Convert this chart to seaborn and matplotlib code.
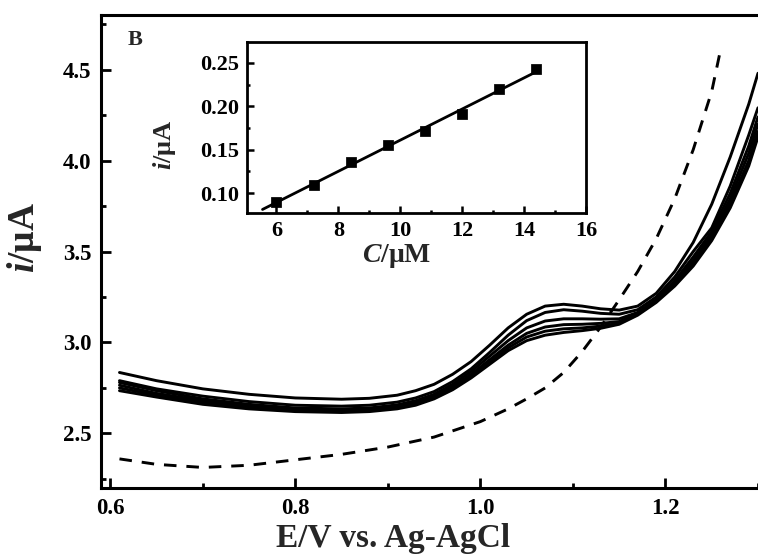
import numpy as np
import pandas as pd
import matplotlib
matplotlib.use("Agg")
import matplotlib.pyplot as plt
from matplotlib.ticker import MultipleLocator
import seaborn as sns

# ---------------- data ----------------
E = [0.61, 0.65, 0.70, 0.75, 0.80, 0.85, 0.88, 0.91, 0.93, 0.95, 0.97, 0.99, 1.01, 1.03,
     1.05, 1.07, 1.09, 1.11, 1.13, 1.15, 1.17, 1.19, 1.21, 1.23, 1.25, 1.27, 1.29, 1.30]
c1 = [2.835, 2.79, 2.745, 2.715, 2.695, 2.688, 2.693, 2.71, 2.735, 2.77, 2.825, 2.895, 2.985, 3.08,
      3.155, 3.20, 3.21, 3.20, 3.185, 3.178, 3.20, 3.27, 3.39, 3.55, 3.76, 4.02, 4.31, 4.48]
c2 = [2.79, 2.745, 2.705, 2.675, 2.655, 2.65, 2.655, 2.672, 2.695, 2.73, 2.785, 2.855, 2.945, 3.04,
      3.12, 3.165, 3.18, 3.172, 3.16, 3.155, 3.18, 3.25, 3.36, 3.50, 3.63, 3.86, 4.14, 4.29]
c3 = [2.78, 2.735, 2.69, 2.66, 2.64, 2.635, 2.64, 2.657, 2.68, 2.715, 2.77, 2.84, 2.925, 3.01,
      3.08, 3.118, 3.13, 3.13, 3.128, 3.13, 3.165, 3.235, 3.34, 3.47, 3.61, 3.82, 4.08, 4.24]
c4 = [2.765, 2.72, 2.68, 2.65, 2.63, 2.625, 2.63, 2.647, 2.67, 2.705, 2.757, 2.825, 2.905, 2.985,
      3.05, 3.085, 3.098, 3.10, 3.105, 3.115, 3.16, 3.23, 3.33, 3.45, 3.59, 3.79, 4.04, 4.20]
c5 = [2.75, 2.71, 2.67, 2.642, 2.625, 2.62, 2.625, 2.64, 2.662, 2.697, 2.748, 2.815, 2.89, 2.97,
      3.03, 3.062, 3.075, 3.08, 3.09, 3.105, 3.155, 3.225, 3.32, 3.435, 3.575, 3.765, 4.00, 4.16]
c6 = [2.735, 2.70, 2.66, 2.635, 2.62, 2.615, 2.62, 2.635, 2.655, 2.69, 2.74, 2.805, 2.88, 2.955,
      3.01, 3.04, 3.055, 3.065, 3.078, 3.10, 3.15, 3.22, 3.31, 3.42, 3.56, 3.74, 3.97, 4.13]
solid_curves = [c1, c2, c3, c4, c5, c6]

E_blank = [0.61, 0.65, 0.70, 0.75, 0.80, 0.85, 0.90, 0.95, 1.00, 1.03, 1.05, 1.07, 1.09,
           1.11, 1.13, 1.15, 1.17, 1.19, 1.21, 1.23, 1.25, 1.26]
i_blank = [2.36, 2.33, 2.313, 2.325, 2.355, 2.385, 2.425, 2.48, 2.565, 2.635, 2.69, 2.75, 2.835,
           2.95, 3.085, 3.235, 3.39, 3.57, 3.79, 4.06, 4.38, 4.62]

conc = [6.0, 7.2, 8.4, 9.6, 10.8, 12.0, 13.2, 14.4]
peak_i = [0.090, 0.109, 0.136, 0.155, 0.172, 0.191, 0.220, 0.243]
fit_range = [5.55, 14.5]

main_xticks = [0.6, 0.8, 1.0, 1.2]
main_yticks = [2.5, 3.0, 3.5, 4.0, 4.5]
inset_xticks = [6, 8, 10, 12, 14, 16]
inset_yticks = [0.10, 0.15, 0.20, 0.25]

# ---------------- style ----------------
sns.set_theme(style="ticks")
plt.rcParams["font.family"] = ["Liberation Serif", "DejaVu Serif"]
plt.rcParams["font.weight"] = "bold"
plt.rcParams["mathtext.fontset"] = "custom"
plt.rcParams["mathtext.it"] = "Liberation Serif:italic:bold"
plt.rcParams["mathtext.rm"] = "Liberation Serif:bold"
plt.rcParams["mathtext.bf"] = "Liberation Serif:bold"

fig = plt.figure(figsize=(7.58, 5.56), dpi=100)
ax = fig.add_axes([0.1332, 0.1223, 0.8668, 0.8507])

for c in solid_curves:
    df = pd.DataFrame({"E": E, "i": c})
    sns.lineplot(data=df, x="E", y="i", color="black", lw=2.1, ax=ax, sort=True)

dfb = pd.DataFrame({"E": E_blank, "i": i_blank})
sns.lineplot(data=dfb, x="E", y="i", color="black", lw=2.1, ax=ax)
ax.lines[-1].set_dashes((4.3, 3.4))

ax.set_xlim(0.59, 1.30)
ax.set_ylim(2.2, 4.8)
ax.set_xticks(main_xticks)
ax.set_yticks(main_yticks)
ax.set_xticklabels([f"{v:.1f}" for v in main_xticks])
ax.set_yticklabels([f"{v:.1f}" for v in main_yticks])
ax.xaxis.set_minor_locator(MultipleLocator(0.1))
ax.yaxis.set_minor_locator(MultipleLocator(0.25))
ax.tick_params(which="both", direction="in", width=2, labelsize=16.5, colors="black")
ax.tick_params(which="major", length=7, pad=7)
ax.tick_params(which="minor", length=3.5)
for lab in ax.get_xticklabels() + ax.get_yticklabels():
    lab.set_fontweight("bold")
for s in ["left", "bottom", "top"]:
    ax.spines[s].set_linewidth(2.2)
    ax.spines[s].set_color("black")
ax.spines["right"].set_visible(False)
ax.set_xlabel("E/V vs. Ag-AgCl", fontsize=24, fontweight="bold")
ax.xaxis.set_label_coords(0.445, -0.074, transform=ax.transAxes)
ax.set_ylabel(r"$\mathit{i}$/μA", fontsize=27, fontweight="bold")
ax.yaxis.set_label_coords(-0.086, 0.53, transform=ax.transAxes)
ax.text(0.04, 0.947, "B", transform=ax.transAxes, fontsize=16, fontweight="bold",
        va="center", ha="left")

# ---------------- inset ----------------
ins = fig.add_axes([0.3259, 0.6169, 0.4472, 0.3076])
sns.scatterplot(x=conc, y=peak_i, marker="s", s=45, color="black", edgecolor="black",
                ax=ins, zorder=3)
slope, intercept = np.polyfit(conc, peak_i, 1)
fx = np.array(fit_range)
sns.lineplot(x=fx, y=slope * fx + intercept, color="black", lw=2.0, ax=ins)
ins.set_xlim(5.05, 16.0)
ins.set_ylim(0.077, 0.274)
ins.set_xticks(inset_xticks)
ins.set_yticks(inset_yticks)
ins.set_xticklabels([f"{v:d}" for v in inset_xticks])
ins.set_yticklabels([f"{v:.2f}" for v in inset_yticks])
ins.xaxis.set_minor_locator(MultipleLocator(1))
ins.yaxis.set_minor_locator(MultipleLocator(0.025))
ins.tick_params(which="both", direction="in", width=1.8, labelsize=16, colors="black")
ins.tick_params(which="major", length=5, pad=6)
ins.tick_params(which="minor", length=2.5)
for lab in ins.get_xticklabels() + ins.get_yticklabels():
    lab.set_fontweight("bold")
for s in ins.spines.values():
    s.set_linewidth(2.0)
    s.set_color("black")
    s.set_visible(True)
ins.set_xlabel(r"$\mathit{C}$/μM", fontsize=20, fontweight="bold")
ins.xaxis.set_label_coords(0.44, -0.17, transform=ins.transAxes)
ins.set_ylabel(r"$\mathit{i}$/μA", fontsize=19, fontweight="bold")
ins.yaxis.set_label_coords(-0.205, 0.40, transform=ins.transAxes)

fig.savefig("out.png", dpi=100)
